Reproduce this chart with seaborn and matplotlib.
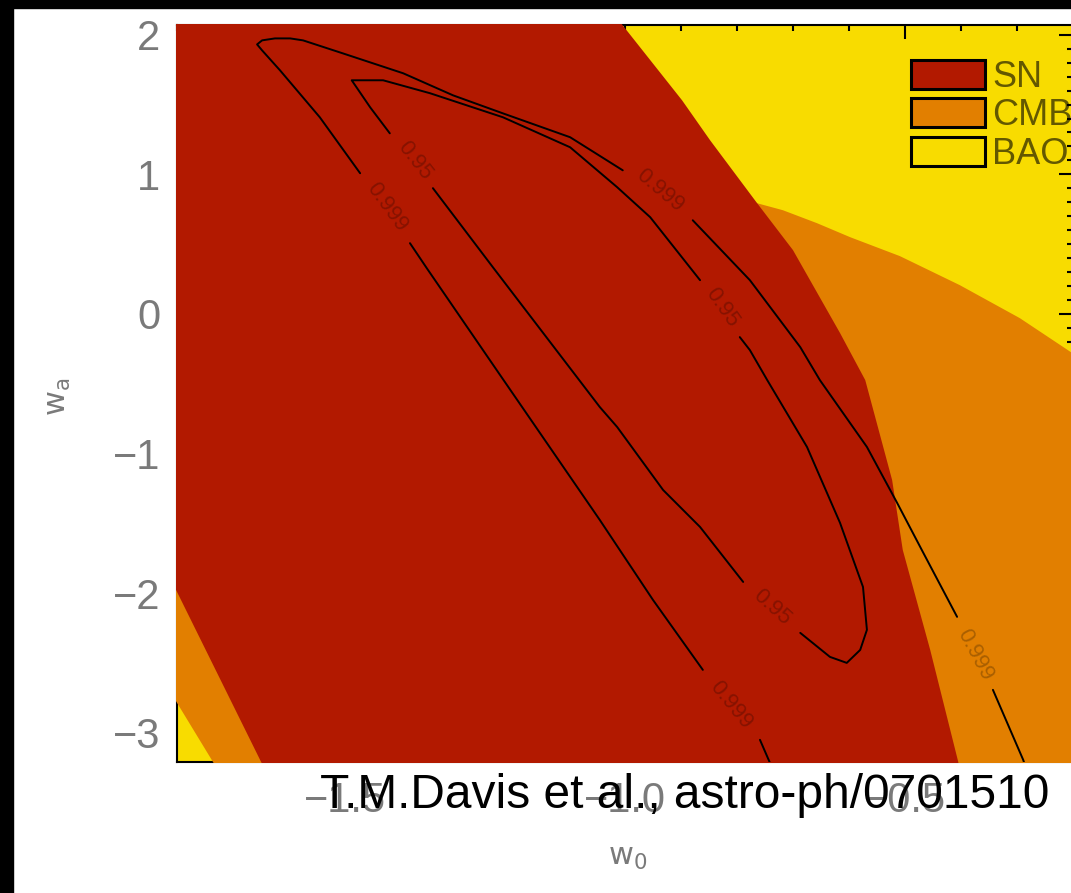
import numpy as np
import matplotlib
matplotlib.use("Agg")
import matplotlib.pyplot as plt
from matplotlib.patches import Patch, Rectangle
from matplotlib.ticker import MultipleLocator
from matplotlib.transforms import Bbox, TransformedBbox
import seaborn as sns

sns.set_theme(style="white")
plt.rcParams["font.family"] = ["Liberation Sans", "DejaVu Sans"]
plt.rcParams["axes.unicode_minus"] = True

nan = np.nan

# confidence regions (w0, wa)
sn_w0 = [-1.866, -1.050, -1.004, -0.898, -0.848, -0.764, -0.700, -0.616, -0.571,
         -0.523, -0.504, -0.455, -0.405, -0.391, -1.616, -1.650, -1.800, -1.866]
sn_wa = [2.318, 2.318, 2.067, 1.530, 1.244, 0.793, 0.457, -0.137, -0.474,
         -1.190, -1.691, -2.407, -3.208, -3.480, -3.480, -3.208, -1.991, -1.455]

cmb_w0 = [-0.764, -0.955, -1.866, -1.866, -1.800, -1.736, -1.695, -0.152,
          -0.152, -0.204, -0.295, -0.402, -0.509, -0.598, -0.657, -0.718]
cmb_wa = [0.793, 1.173, -1.190, -2.335, -2.786, -3.208, -3.480, -3.480,
          -0.402, -0.273, -0.030, 0.206, 0.414, 0.550, 0.650, 0.743]

# contour lines (nan = gap left for the label)
c999_w0 = [-0.732, -0.759, nan, -0.861, -0.950, -1.045, -1.223, -1.354, -1.384, nan,
           -1.473, -1.545, -1.616, -1.648, -1.657, -1.648, -1.625, -1.598, -1.575,
           -1.504, -1.396, -1.307, -1.218, -1.098, -1.004, nan,
           -0.879, -0.777, -0.687, -0.652, -0.568, -0.514, -0.470, -0.407, nan,
           -0.343, -0.289, -0.277]
c999_wa = [-3.301, -3.051, nan, -2.550, -2.049, -1.476, -0.438, 0.328, 0.507, nan,
           1.008, 1.409, 1.745, 1.888, 1.931, 1.960, 1.974, 1.974, 1.960,
           1.867, 1.724, 1.566, 1.437, 1.266, 1.029, nan,
           0.671, 0.242, -0.238, -0.474, -0.953, -1.354, -1.691, -2.170, nan,
           -2.693, -3.194, -3.337]

c95_w0 = [-1.343, -1.236, -1.045, -1.014, -0.932, -0.866, -0.789, nan,
          -0.687, -0.634, -0.604, -0.580, -0.568, -0.575, -0.616, -0.675, -0.746,
          -0.777, -0.795, nan,
          -0.866, -0.955, -1.014, -1.098, -1.218, -1.348, -1.432, -1.488, -1.455, -1.420]
c95_wa = [0.901, 0.335, -0.667, -0.810, -1.261, -1.526, -1.920, nan,
          -2.285, -2.457, -2.500, -2.407, -2.263, -1.956, -1.497, -0.953, -0.474,
          -0.259, -0.166, nan,
          0.242, 0.693, 0.908, 1.194, 1.409, 1.581, 1.674, 1.674, 1.480, 1.294]

lbl_text = ["0.95", "0.999", "0.999", "0.95", "0.95", "0.999", "0.999"]
lbl_w0 = [-1.375, -1.425, -0.938, -0.827, -0.738, -0.811, -0.375]
lbl_wa = [1.101, 0.765, 0.886, 0.049, -2.099, -2.800, -2.442]
lbl_rot = [-52, -54, -40, -55, -42, -51, -62]

names = ["SN", "CMB", "BAO"]
colors = ["#b21900", "#e27f00", "#f8dc00"]

fig = plt.figure(figsize=(10.71, 8.93), dpi=100)
fig.patch.set_facecolor("white")
fig.patches.append(Rectangle((0, 0), 13 / 1071, 1, transform=fig.transFigure,
                             color="black", zorder=-10))
fig.patches.append(Rectangle((0, 1 - 8 / 893), 1, 8 / 893, transform=fig.transFigure,
                             color="black", zorder=-10))

ax = fig.add_axes([177 / 1071, 131 / 893, 896 / 1071, 737 / 893])
ax.set_facecolor(colors[2])

# filled regions sit over the frame (frame only shows on the yellow)
clip = TransformedBbox(Bbox([[-0.0012, -0.0014], [1.0012, 1.0014]]), ax.transAxes)
for w0, wa, c, z in [(cmb_w0, cmb_wa, colors[1], 3), (sn_w0, sn_wa, colors[0], 3.1)]:
    for p in ax.fill(w0, wa, color=c, lw=0, zorder=z):
        p.set_clip_box(clip)

ax.plot(c999_w0, c999_wa, color="black", lw=1.4, zorder=4)
ax.plot(c95_w0, c95_wa, color="black", lw=1.4, zorder=4)
for t, x, y, r in zip(lbl_text, lbl_w0, lbl_wa, lbl_rot):
    ax.text(x, y, t, rotation=r, rotation_mode="anchor", ha="center", va="center",
            fontsize=16, color="black", alpha=0.25, zorder=5)

ax.set_xlim(-1.8, -0.2)
ax.set_ylim(-3.21, 2.07)
ax.xaxis.set_major_locator(MultipleLocator(0.5))
ax.xaxis.set_minor_locator(MultipleLocator(0.1))
ax.yaxis.set_major_locator(MultipleLocator(1))
ax.yaxis.set_minor_locator(MultipleLocator(0.1))
ax.tick_params(which="both", direction="in", top=True, right=True, color="black",
               width=1.5, labelcolor="#7a7a7a", labelsize=30)
ax.tick_params(which="major", length=10)
ax.tick_params(which="minor", length=4.5)
ax.tick_params(axis="x", pad=14)
ax.tick_params(axis="y", pad=12)
for s in ax.spines.values():
    s.set_color("black")
    s.set_linewidth(1.5)

ax.set_xlabel(r"$\mathrm{w_0}$", fontsize=22, color="#7a7a7a")
ax.set_ylabel(r"$\mathrm{w_a}$", fontsize=22, color="#7a7a7a")
ax.xaxis.set_label_coords(0.503, -0.129)
ax.xaxis.label.set_va("center")
ax.yaxis.set_label_coords(-0.133, 0.495)
ax.yaxis.label.set_va("center")

handles = [Patch(facecolor=c, edgecolor="black", linewidth=2.2) for c in colors]
leg = ax.legend(handles, names, loc="upper left",
                bbox_to_anchor=(911 / 1071, 1 - 60 / 893),
                bbox_transform=fig.transFigure, frameon=False, fontsize=26,
                handlelength=2.05, handleheight=0.86, handletextpad=0.2,
                labelspacing=0.09, borderpad=0, borderaxespad=0)
for txt in leg.get_texts():
    txt.set_color((0, 0, 0, 0.6))

fig.text(320 / 1071, 1 - 808 / 893, "T.M.Davis et al., astro-ph/0701510",
         fontsize=34.5, color="black", ha="left", va="baseline", zorder=10)

fig.savefig("out.png", dpi=100)
